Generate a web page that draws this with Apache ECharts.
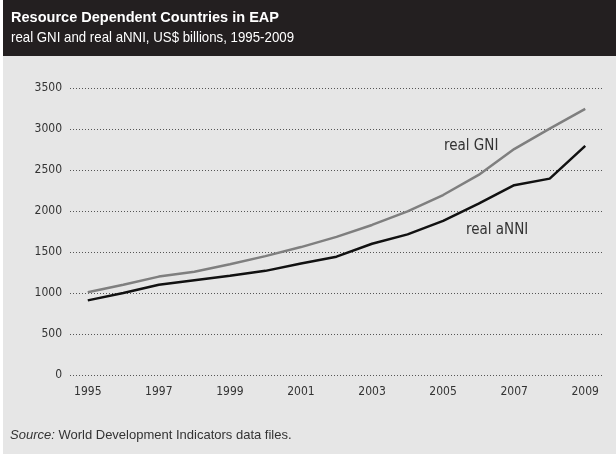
<!DOCTYPE html>
<html lang="en">
<head>
    <meta charset="UTF-8">
    <title>Resource Dependent Countries in EAP</title>
    <style>
        html, body { margin: 0; padding: 0; background: #fff; }
        #chart { width: 616px; height: 454px; }
    </style>
    <script src="https://cdn.jsdelivr.net/npm/echarts@6.0.0/dist/echarts.min.js"></script>
</head>
<body>
    <div id="chart"></div>

    <script type="text/javascript">
        // values, US$ billions
        var years = ['1995', '1996', '1997', '1998', '1999', '2000', '2001', '2002',
                     '2003', '2004', '2005', '2006', '2007', '2008', '2009'];
        var realGNI  = [1010, 1100, 1200, 1260, 1350, 1450, 1560, 1685, 1830, 1995, 2195, 2440, 2755, 3005, 3245];
        var realANNI = [910, 1000, 1100, 1155, 1210, 1270, 1360, 1443, 1600, 1715, 1880, 2090, 2315, 2395, 2795];
        var yTicks = [0, 500, 1000, 1500, 2000, 2500, 3000, 3500];

        var narrow = '"DejaVu Sans Condensed", "Liberation Sans", sans-serif';

        // squeeze a regular font to the width of the condensed header type
        var ctx = document.createElement('canvas').getContext('2d');
        function squeeze(text, font, width) {
            ctx.font = font;
            return Math.min(1, width / ctx.measureText(text).width);
        }
        var titleText = 'Resource Dependent Countries in EAP';
        var titleFont = 'bold 15.5px "Liberation Sans", sans-serif';
        var subText = 'real GNI and real aNNI, US$ billions, 1995-2009';
        var subFont = '15px "Liberation Sans", sans-serif';

        var chart = echarts.init(document.getElementById('chart'));
        var option = {
            animation: false,
            backgroundColor: '#fff',
            graphic: [
                { type: 'rect', shape: { x: 3, y: 0, width: 613, height: 454 }, style: { fill: '#e6e6e6' }, z: -10 },
                { type: 'rect', shape: { x: 3, y: 0, width: 613, height: 56 }, style: { fill: '#231f20' }, z: -9 },
                {
                    type: 'text', x: 11, y: 10, scaleX: squeeze(titleText, titleFont, 268),
                    style: { text: titleText, fill: '#fff', font: titleFont }
                },
                {
                    type: 'text', x: 11, y: 30, scaleX: squeeze(subText, subFont, 283),
                    style: { text: subText, fill: '#fff', font: subFont }
                },
                {
                    type: 'text', left: 444, top: 139,
                    style: { text: 'real GNI', fill: '#333', font: '15px ' + narrow }
                },
                {
                    type: 'text', left: 466, top: 223,
                    style: { text: 'real aNNI', fill: '#333', font: '15px ' + narrow }
                },
                {
                    type: 'text', left: 10, top: 429,
                    style: {
                        text: '{i|Source:} World Development Indicators data files.',
                        fill: '#333', font: '13px "Liberation Sans", sans-serif',
                        rich: { i: { fontStyle: 'italic', fontSize: 13, fontFamily: 'Liberation Sans', fill: '#333' } }
                    }
                }
            ],
            grid: { left: 70, right: 13, top: 88, bottom: 79 },
            xAxis: {
                type: 'category',
                data: years,
                boundaryGap: true,
                axisLine: { show: false },
                axisTick: { show: false },
                axisLabel: { interval: 1, color: '#333', fontSize: 12, fontFamily: 'DejaVu Sans Condensed', margin: 11 }
            },
            yAxis: {
                type: 'value',
                min: yTicks[0],
                max: yTicks[yTicks.length - 1],
                interval: 500,
                axisLine: { show: false },
                axisTick: { show: false },
                axisLabel: {
                    color: '#333', fontSize: 12, fontFamily: 'DejaVu Sans Condensed', margin: 8,
                    formatter: function (v) { return String(v); }
                },
                splitLine: { lineStyle: { color: '#555', type: [1, 2], width: 1 } }
            },
            series: [
                {
                    name: 'real GNI',
                    type: 'line',
                    data: realGNI,
                    symbol: 'none',
                    lineStyle: { color: '#7f7f7f', width: 2.5 }
                },
                {
                    name: 'real aNNI',
                    type: 'line',
                    data: realANNI,
                    symbol: 'none',
                    lineStyle: { color: '#111', width: 2.5 }
                }
            ]
        };
        chart.setOption(option);
    </script>
</body>
</html>
